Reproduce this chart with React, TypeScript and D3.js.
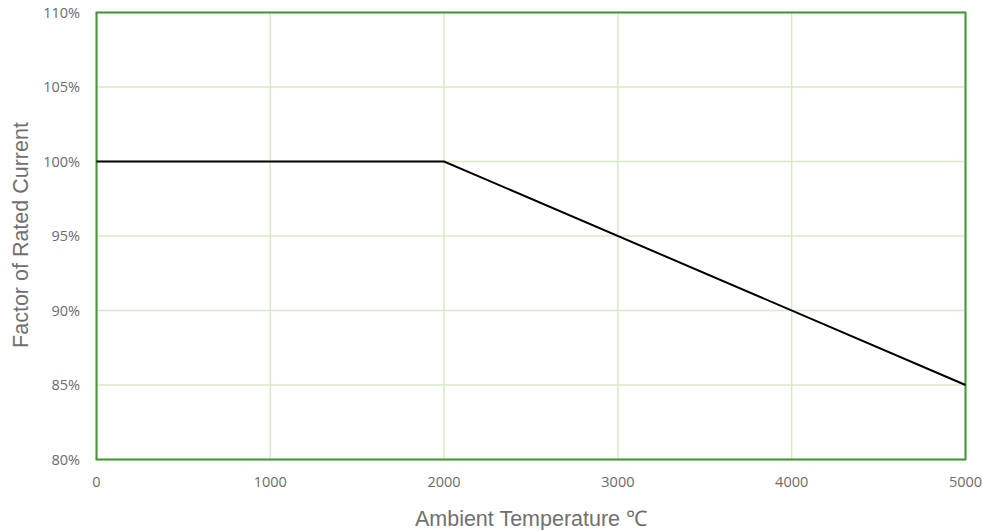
import React from "react";
import * as d3 from "d3";

const temps = [0, 2000, 5000];
const factors = [100, 100, 85];
const xTicks = [0, 1000, 2000, 3000, 4000, 5000];
const yTicks = [80, 85, 90, 95, 100, 105, 110];

export default function App() {
  const W = 983, H = 530;
  const L = 96.5, R = 965.5, T = 12.5, B = 459.5;
  const x = d3.scaleLinear().domain([0, 5000]).range([L, R]);
  const y = d3.scaleLinear().domain([80, 110]).range([B, T]);
  const line = d3.line<number>().x((_, i) => x(temps[i])).y((d) => y(d));
  const font = "'Open Sans', 'Liberation Sans', sans-serif";
  const titleFont = "'Liberation Sans', Arial, sans-serif";
  return (
    <svg width={W} height={H} style={{ position: "absolute", left: 0, top: 0 }}>
      <rect width={W} height={H} fill="#fff" />
      {xTicks.map((t) => (
        <line key={"gx" + t} x1={x(t)} x2={x(t)} y1={T} y2={B} stroke="#d4ebc6" strokeWidth={1.5} />
      ))}
      {yTicks.map((t) => (
        <line key={"gy" + t} x1={L} x2={R} y1={y(t)} y2={y(t)} stroke="#d4ebc6" strokeWidth={1.5} />
      ))}
      <rect x={L} y={T} width={R - L} height={B - T} fill="none" stroke="#3d9631" strokeWidth={2} />
      <path d={line(factors) || ""} fill="none" stroke="#000" strokeWidth={2} />
      {yTicks.map((t) => (
        <text key={"ly" + t} x={80} y={y(t)} dy="0.35em" textAnchor="end" fontFamily={font} fontSize={14.5} fill="#6b6b6b">
          {t}%
        </text>
      ))}
      {xTicks.map((t) => (
        <text key={"lx" + t} x={x(t)} y={482} dy="0.35em" textAnchor="middle" fontFamily={font} fontSize={14.5} fill="#6b6b6b">
          {t}
        </text>
      ))}
      <text x={531} y={518} dy="0.35em" textAnchor="middle" fontFamily={titleFont} fontSize={21.5} fill="#707070">
        Ambient Temperature ℃
      </text>
      <text transform={`translate(20,235) rotate(-90)`} dy="0.35em" textAnchor="middle" fontFamily={titleFont} fontSize={21.5} fill="#707070">
        Factor of Rated Current
      </text>
    </svg>
  );
}
